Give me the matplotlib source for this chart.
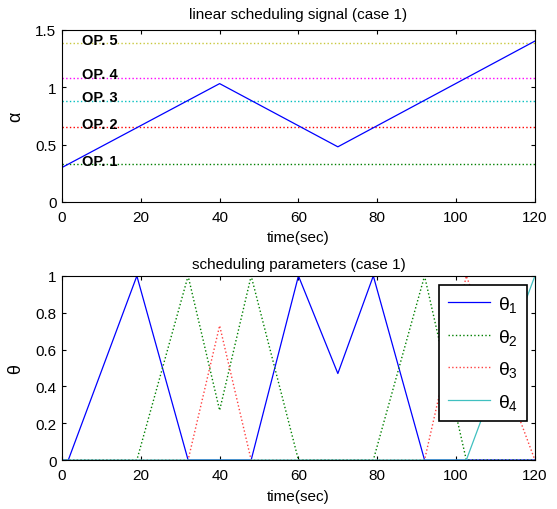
import matplotlib
matplotlib.use("Agg")
import matplotlib.pyplot as plt

plt.rcParams['font.family'] = ['Liberation Sans', 'DejaVu Sans']
plt.rcParams['mathtext.fontset'] = 'custom'
plt.rcParams['mathtext.rm'] = 'Liberation Sans'
plt.rcParams['mathtext.it'] = 'Liberation Sans'

# ---- data ----
alpha_t = [0, 40, 70, 120]
alpha_v = [0.30, 1.03, 0.48, 1.40]

op_levels = [0.33, 0.65, 0.88, 1.08, 1.38]
op_labels = ['OP. 1', 'OP. 2', 'OP. 3', 'OP. 4', 'OP. 5']
op_colors = ['#008000', '#ff0000', '#00bfbf', '#ff00ff', '#c8c83c']

th1_t = [0, 1.6, 19, 32, 48, 60, 70, 79, 92, 120]
th1_v = [0, 0, 1, 0, 0, 1, 0.47, 1, 0, 0]
th2_t = [0, 19, 32, 40, 48, 60, 79, 92, 102.6, 120]
th2_v = [0, 0, 1, 0.27, 1, 0, 0, 1, 0, 0]
th3_t = [0, 32, 40, 48, 92, 102.6, 120]
th3_v = [0, 0, 0.73, 0, 0, 1, 0]
th4_t = [0, 102.6, 120]
th4_v = [0, 0, 1]

xticks = [0, 20, 40, 60, 80, 100, 120]

fig = plt.figure(figsize=(5.57, 5.10), dpi=100)
ax1 = fig.add_axes([0.1113, 0.602, 0.849, 0.338])
ax2 = fig.add_axes([0.1113, 0.096, 0.849, 0.361])

for ax in (ax1, ax2):
    ax.tick_params(direction='in', top=True, right=True, labelsize=11, length=3)
    ax.tick_params(axis='x', pad=6)
    ax.tick_params(axis='y', pad=4)
    ax.set_xlim(0, 120)
    ax.set_xticks(xticks)
    for s in ax.spines.values():
        s.set_linewidth(0.8)

# top
for lv, lb, c in zip(op_levels, op_labels, op_colors):
    ax1.axhline(lv, color=c, linestyle=':', linewidth=1.0)
    ax1.text(5, lv - 0.005, lb, fontsize=10.5, fontweight='bold', va='baseline', ha='left')
ax1.plot(alpha_t, alpha_v, color='#0000ff', linewidth=0.9)
ax1.set_ylim(0, 1.5)
ax1.set_yticks([0, 0.5, 1, 1.5])
ax1.set_yticklabels(['0', '0.5', '1', '1.5'])
ax1.set_title('linear scheduling signal (case 1)', fontsize=11, pad=8)
ax1.set_xlabel('time(sec)', fontsize=11, labelpad=4)
ax1.set_ylabel('α', fontsize=13, labelpad=8)

# bottom
ax2.plot(th1_t, th1_v, color='#0000ff', linestyle='-', linewidth=0.9, label=r'$\theta_1$')
ax2.plot(th2_t, th2_v, color='#008000', linestyle=':', linewidth=1.0, label=r'$\theta_2$')
ax2.plot(th3_t, th3_v, color='#ff4040', linestyle=':', linewidth=1.0, label=r'$\theta_3$')
ax2.plot(th4_t, th4_v, color='#40c0c0', linestyle='-', linewidth=0.9, label=r'$\theta_4$')
ax2.set_ylim(0, 1)
ax2.set_yticks([0, 0.2, 0.4, 0.6, 0.8, 1])
ax2.set_yticklabels(['0', '0.2', '0.4', '0.6', '0.8', '1'])
ax2.set_title('scheduling parameters (case 1)', fontsize=11, pad=6)
ax2.set_xlabel('time(sec)', fontsize=11, labelpad=5)
ax2.set_ylabel('θ', fontsize=13, labelpad=8)
leg = ax2.legend(loc='upper right', bbox_to_anchor=(0.983, 0.95), fontsize=14,
                 frameon=True, fancybox=False, edgecolor='black', framealpha=1,
                 handlelength=2.2, borderpad=0.45, labelspacing=0.65, handletextpad=0.4,
                 borderaxespad=0)
leg.get_frame().set_linewidth(1.2)

fig.savefig('out.png', dpi=100)
